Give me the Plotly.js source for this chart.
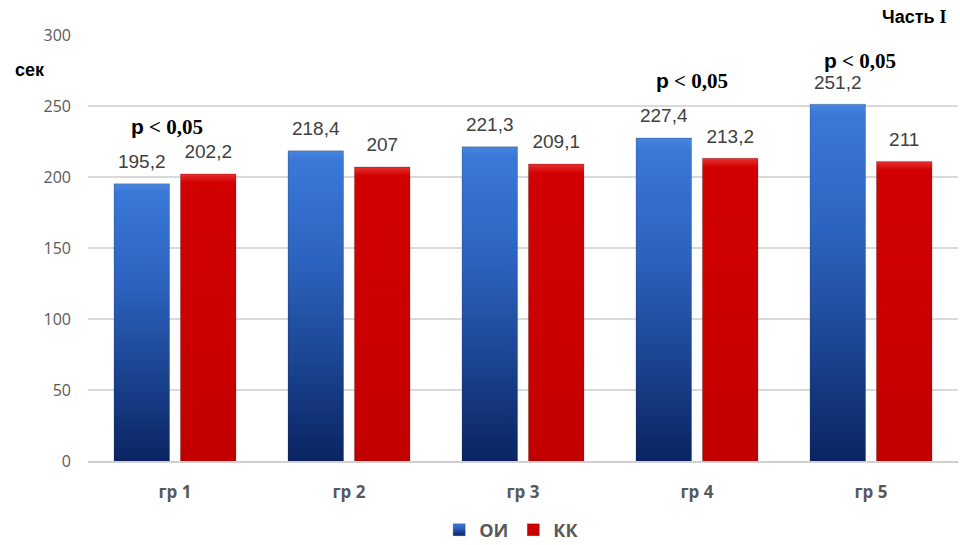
<!DOCTYPE html>
<html>
<head>
<meta charset="utf-8">
<script src="https://cdn.plot.ly/plotly-3.0.1.min.js"></script>
<style>
  html, body { margin: 0; padding: 0; background: #ffffff; }
  #chart { width: 960px; height: 545px; }
</style>
</head>
<body>
<div id="chart"></div>
<script>
// Groups and measured times (seconds)
const groups = ['гр 1', 'гр 2', 'гр 3', 'гр 4', 'гр 5'];
const seriesNames = ['ОИ', 'КК'];
const oiValues = [195.2, 218.4, 221.3, 227.4, 251.2];
const kkValues = [202.2, 207, 209.1, 213.2, 211];
const yTicks = [0, 50, 100, 150, 200, 250, 300];
const sigText = 'p < 0,05';

const fmt = v => String(v).replace('.', ',');
const GAP = 0.236;

const barBase = {
  type: 'bar',
  x: groups,
  hoverinfo: 'skip',
  marker: { line: { width: 0.6, color: 'rgba(0,0,0,0.35)' } }
};

const labelFont = { family: 'Liberation Sans, Arial, sans-serif', size: 19, color: '#404040' };

const traces = [
  Object.assign({}, barBase, { name: seriesNames[0], y: oiValues, marker: Object.assign({ color: '#2a5db4' }, barBase.marker) }),
  Object.assign({}, barBase, { name: seriesNames[1], y: kkValues, marker: Object.assign({ color: '#cc0000' }, barBase.marker) }),
  // value labels above each bar, grouped the same way as the bars
  {
    type: 'scatter', mode: 'markers+text', x: groups, y: oiValues,
    text: oiValues.map(fmt), textposition: 'top center', textfont: labelFont,
    marker: { size: 16, opacity: 0 }, showlegend: false, hoverinfo: 'skip', cliponaxis: false
  },
  {
    type: 'scatter', mode: 'markers+text', x: groups, y: kkValues,
    text: kkValues.map(fmt), textposition: 'top center', textfont: labelFont,
    marker: { size: 16, opacity: 0 }, showlegend: false, hoverinfo: 'skip', cliponaxis: false
  }
];

const sigFont = { family: 'Liberation Serif, Times New Roman, serif', size: 21, color: '#000000', weight: 700 };
const sigLabel = '<span style="font-family:Liberation Sans, Arial, sans-serif">p</span> ' + sigText.slice(2);

const layout = {
  width: 960, height: 545,
  margin: { l: 88, r: 2, t: 35, b: 84, autoexpand: false },
  paper_bgcolor: '#ffffff', plot_bgcolor: '#ffffff',
  barmode: 'group', bargap: GAP, bargroupgap: 0.165,
  scattermode: 'group', scattergap: GAP,
  showlegend: true,
  legend: {
    orientation: 'h', x: 0.487, xanchor: 'center', y: -0.162, yanchor: 'middle',
    font: { family: 'Open Sans, sans-serif', size: 18, color: '#595959', weight: 700 },
    itemwidth: 30, traceorder: 'normal', itemclick: false
  },
  xaxis: {
    type: 'category', range: [-0.5, 4.5], automargin: false,
    showgrid: false, showline: true, linecolor: '#d0d0d0', linewidth: 1.5,
    ticks: '', ticklabelstandoff: 15,
    tickfont: { family: 'Open Sans, sans-serif', size: 17, color: '#595959', weight: 700 },
    fixedrange: true
  },
  yaxis: {
    range: [0, 300], tickvals: yTicks, ticktext: yTicks.map(String), automargin: false,
    showgrid: true, gridcolor: '#d9d9d9', gridwidth: 1.5, zeroline: false,
    ticks: '', ticklabelstandoff: 16,
    tickfont: { family: 'Open Sans, sans-serif', size: 16, color: '#595959' },
    fixedrange: true
  },
  annotations: [
    { xref: 'x', yref: 'y', x: groups[0], y: 235, xshift: -8, text: sigLabel, showarrow: false, font: sigFont, yanchor: 'middle' },
    { xref: 'x', yref: 'y', x: groups[3], y: 267.6, xshift: -5, text: sigLabel, showarrow: false, font: sigFont, yanchor: 'middle' },
    { xref: 'x', yref: 'y', x: groups[4], y: 282, xshift: -11, text: sigLabel, showarrow: false, font: sigFont, yanchor: 'middle' },
    { xref: 'paper', yref: 'paper', x: -0.067, y: 0.917, xanchor: 'center', yanchor: 'middle', showarrow: false,
      text: 'сек', font: { family: 'Liberation Sans, Arial, sans-serif', size: 18, color: '#000000', weight: 700 } },
    { xref: 'paper', yref: 'paper', x: 0.99, y: 1.043, xanchor: 'right', yanchor: 'middle', showarrow: false,
      text: 'Часть <span style="font-family:Liberation Serif, Times New Roman, serif">I</span>',
      font: { family: 'Liberation Sans, Arial, sans-serif', size: 18, color: '#000000', weight: 700 } }
  ]
};

// Vertical gradients for the bar fills and legend swatches
function addGradients(gd) {
  const svg = gd.querySelector('.main-svg');
  const defs = svg.querySelector('defs');
  const NS = 'http://www.w3.org/2000/svg';
  function grad(id, stops) {
    const g = document.createElementNS(NS, 'linearGradient');
    g.setAttribute('id', id);
    g.setAttribute('x1', '0'); g.setAttribute('y1', '0');
    g.setAttribute('x2', '0'); g.setAttribute('y2', '1');
    stops.forEach(([o, c]) => {
      const s = document.createElementNS(NS, 'stop');
      s.setAttribute('offset', o); s.setAttribute('stop-color', c);
      g.appendChild(s);
    });
    defs.appendChild(g);
  }
  grad('gradOI', [[0, '#4a86e0'], [0.03, '#3a78d8'], [0.35, '#2d63c0'], [0.7, '#1a428e'], [1, '#0a2462']]);
  grad('gradKK', [[0, '#e83030'], [0.03, '#d20000'], [0.5, '#cc0000'], [1, '#c20000']]);
  const ids = ['gradOI', 'gradKK'];
  gd.querySelectorAll('.barlayer .trace').forEach((t, i) => {
    t.querySelectorAll('path').forEach(p => { p.style.fill = 'url(#' + ids[i] + ')'; });
  });
  gd.querySelectorAll('.legend .traces').forEach((t, i) => {
    t.querySelectorAll('.legendpoints path').forEach(p => { p.style.fill = 'url(#' + ids[i] + ')'; });
  });
}

Plotly.newPlot('chart', traces, layout, { displayModeBar: false, staticPlot: true }).then(addGradients);
</script>
</body>
</html>
